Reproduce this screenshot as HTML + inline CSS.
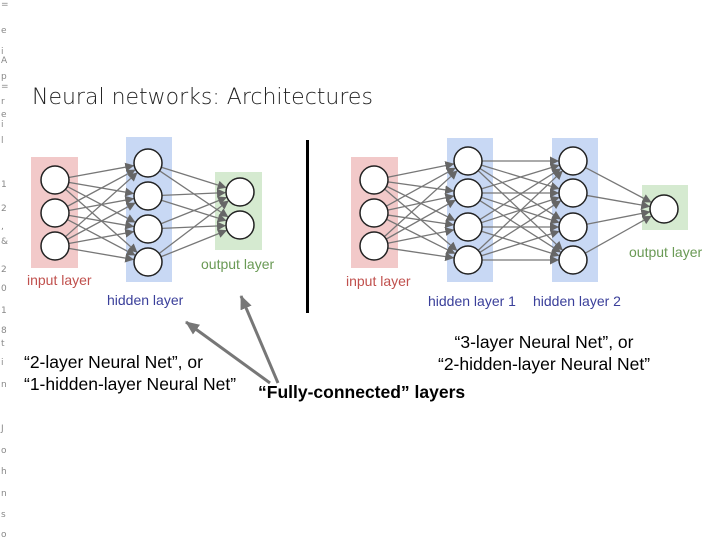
<!DOCTYPE html>
<html><head><meta charset="utf-8"><style>
body{margin:0;width:720px;height:540px;background:#fff;overflow:hidden;position:relative;font-family:"Liberation Sans",sans-serif}
.t{position:absolute;white-space:nowrap}
.m{position:absolute;left:1px;font-size:9px;color:#888;font-family:"DejaVu Sans",sans-serif}
</style></head><body>
<div class="m" style="top:0">=</div><div class="m" style="top:26px">e</div><div class="m" style="top:47px">i</div><div class="m" style="top:56px">A</div><div class="m" style="top:72px">p</div><div class="m" style="top:82px">=</div><div class="m" style="top:97px">r</div><div class="m" style="top:110px">e</div><div class="m" style="top:120px">i</div><div class="m" style="top:136px">l</div><div class="m" style="top:180px">1</div><div class="m" style="top:204px">2</div><div class="m" style="top:222px">,</div><div class="m" style="top:237px">&amp;</div><div class="m" style="top:265px">2</div><div class="m" style="top:284px">0</div><div class="m" style="top:306px">1</div><div class="m" style="top:326px">8</div><div class="m" style="top:339px">t</div><div class="m" style="top:358px">i</div><div class="m" style="top:380px">n</div><div class="m" style="top:424px">J</div><div class="m" style="top:446px">o</div><div class="m" style="top:467px">h</div><div class="m" style="top:489px">n</div><div class="m" style="top:510px">s</div><div class="m" style="top:530px">o</div>
<div class="t" style="left:32px;top:85px;font-size:22px;color:#222;font-family:'DejaVu Sans',sans-serif;font-weight:300">Neural networks: Architectures</div>
<svg width="720" height="540" style="position:absolute;left:0;top:0">
<defs><marker id="a" markerWidth="9" markerHeight="9" refX="8" refY="4.5" orient="auto" markerUnits="userSpaceOnUse"><path d="M0,0L9,4.5L0,9z" fill="#666"/></marker>
<marker id="b" markerWidth="14" markerHeight="12" refX="13" refY="6" orient="auto" markerUnits="userSpaceOnUse"><path d="M0,0L14,6L0,12z" fill="#777"/></marker></defs>
<g id="L"></g>
<rect x="306" y="140" width="3" height="173" fill="#000"/>
<line x1="270" y1="383" x2="186" y2="322" stroke="#777" stroke-width="3" marker-end="url(#b)"/>
<line x1="278" y1="383" x2="241" y2="296" stroke="#777" stroke-width="3" marker-end="url(#b)"/>
</svg>
<script>
const g=document.getElementById('L');const NS='http://www.w3.org/2000/svg';
function el(t,a){const e=document.createElementNS(NS,t);for(const k in a)e.setAttribute(k,a[k]);g.appendChild(e);}
function net(layers){
 layers.forEach(L=>el('rect',{x:L.rx,y:L.ry,width:L.rw,height:L.rh,fill:L.c}));
 for(let i=0;i<layers.length-1;i++){const A=layers[i],B=layers[i+1];
  A.ys.forEach(y1=>B.ys.forEach(y2=>{const dx=B.x-A.x,dy=y2-y1,d=Math.hypot(dx,dy);
   el('line',{x1:A.x+14*dx/d,y1:y1+14*dy/d,x2:B.x-15*dx/d,y2:y2-15*dy/d,stroke:'#777','stroke-width':1.3,'marker-end':'url(#a)'});}));}
 layers.forEach(L=>L.ys.forEach(y=>el('circle',{cx:L.x,cy:y,r:14,fill:'#fff',stroke:'#222','stroke-width':1.5})));
}
const R='#f2c9c9',B='#c8d8f4',G='#d5ead0';
net([{x:55,ys:[180,213,246],rx:31,ry:157,rw:47,rh:111,c:R},
 {x:148,ys:[163,196,229,262],rx:126,ry:137,rw:46,rh:145,c:B},
 {x:240,ys:[192,225],rx:215,ry:172,rw:47,rh:78,c:G}]);
net([{x:374,ys:[180,213,246],rx:351,ry:157,rw:47,rh:111,c:R},
 {x:468,ys:[161,193,227,260],rx:447,ry:138,rw:46,rh:144,c:B},
 {x:573,ys:[161,193,227,260],rx:552,ry:138,rw:46,rh:144,c:B},
 {x:664,ys:[209],rx:642,ry:185,rw:46,rh:45,c:G}]);
</script>
<div class="t" style="left:27px;top:272px;font-size:14px;color:#c0504d">input layer</div>
<div class="t" style="left:107px;top:292px;font-size:14px;color:#3a3f9a">hidden layer</div>
<div class="t" style="left:201px;top:256px;font-size:14px;color:#6a9a55">output layer</div>
<div class="t" style="left:346px;top:273px;font-size:14px;color:#c0504d">input layer</div>
<div class="t" style="left:428px;top:293px;font-size:14px;color:#3a3f9a">hidden layer 1</div>
<div class="t" style="left:533px;top:293px;font-size:14px;color:#3a3f9a">hidden layer 2</div>
<div class="t" style="left:629px;top:244px;font-size:14px;color:#6a9a55">output layer</div>
<div class="t" style="left:24px;top:351px;font-size:17.5px;color:#000;line-height:22px">“2-layer Neural Net”, or<br>“1-hidden-layer Neural Net”</div>
<div class="t" style="left:258px;top:382px;font-size:17.5px;font-weight:bold;color:#000">“Fully-connected” layers</div>
<div class="t" style="left:438px;top:331px;font-size:17.5px;color:#000;line-height:22px;text-align:center">“3-layer Neural Net”, or<br>“2-hidden-layer Neural Net”</div>
</body></html>
